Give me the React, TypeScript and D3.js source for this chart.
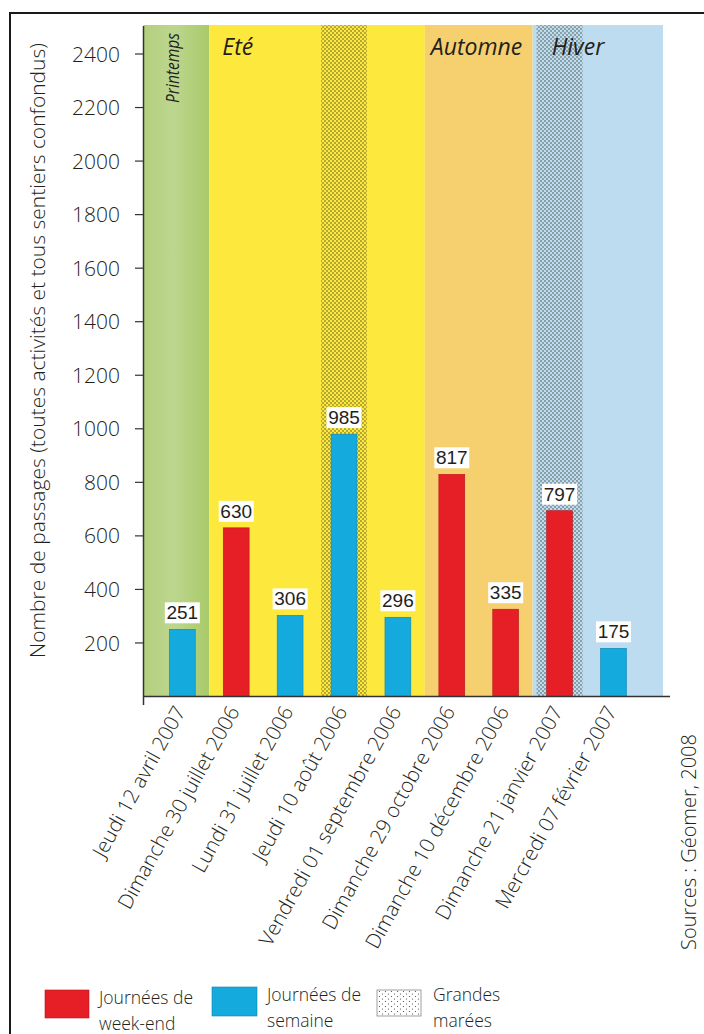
import React from "react";
import * as d3 from "d3";

// ---- Data ----
const categories = [
  "Jeudi 12 avril 2007",
  "Dimanche 30 juillet 2006",
  "Lundi 31 juillet 2006",
  "Jeudi 10 août 2006",
  "Vendredi 01 septembre 2006",
  "Dimanche 29 octobre 2006",
  "Dimanche 10 décembre 2006",
  "Dimanche 21 janvier 2007",
  "Mercredi 07 février 2007",
];
// printed value labels
const valueLabels = [251, 630, 306, 985, 296, 817, 335, 797, 175];
// bar heights as drawn in the picture
const barValues = [251, 630, 303, 980, 296, 830, 326, 694, 180];
const dayTypes = ["semaine", "weekend", "semaine", "semaine", "semaine", "weekend", "weekend", "weekend", "semaine"];
const grandesMarees = [false, false, false, true, false, false, false, true, false];

const seasons = ["Printemps", "Eté", "Automne", "Hiver"];
const seasonFirst = [0, 1, 5, 7];
const seasonLast = [0, 4, 6, 8];

const yTicks = [200, 400, 600, 800, 1000, 1200, 1400, 1600, 1800, 2000, 2200, 2400];

const legendLabels = [
  ["Journées de", "week-end"],
  ["Journées de", "semaine"],
  ["Grandes", "marées"],
];

// ---- Styles ----
const seasonColors = ["url(#greenGrad)", "#fde83d", "#f6cf6f", "#bddcf0"];
const barColors: Record<string, string> = { weekend: "#e61f26", semaine: "#14aade" };
const barStroke: Record<string, string> = { weekend: "#b5161c", semaine: "#0d86b0" };
const FONT = "'Open Sans', 'DejaVu Sans', sans-serif";
const TEXT = "#231f20";
const W_LIGHT = 350;

export default function App() {
  const W = 704;
  const H = 1034;
  const plotLeft = 143.5;
  const plotRight = 663;
  const bandTop = 25;

  const y = d3.scaleLinear().domain([0, 2400]).range([696.5, 54]);
  const plotBottom = y(0);
  const x = d3
    .scaleBand<string>()
    .domain(categories)
    .range([143.5, 652.3])
    .paddingInner(0.52)
    .paddingOuter(0.48);
  const bw = x.bandwidth();
  const step = x.step();
  const cx = (i: number) => (x(categories[i]) as number) + bw / 2;

  const seasonLeft = (s: number) => (seasonFirst[s] === 0 ? plotLeft : cx(seasonFirst[s]) - step / 2);
  const seasonRight = (s: number) =>
    seasonLast[s] === categories.length - 1 ? plotRight : cx(seasonLast[s]) + step / 2;
  const seasonOf = (i: number) => seasonFirst.findIndex((f, s) => i >= f && i <= seasonLast[s]);

  const seasonLabelDx = [0, 13, 6, 19];

  return (
    <div style={{ position: "absolute", left: 0, top: 0 }}>
      <svg width={W} height={H} style={{ display: "block", background: "#fff" }}>
        <defs>
          <linearGradient id="greenGrad" x1="0" x2="1" y1="0" y2="0">
            <stop offset="0" stopColor="#b3cf7c" />
            <stop offset="0.45" stopColor="#bdd68f" />
            <stop offset="1" stopColor="#a9ca69" />
          </linearGradient>
          <pattern id="dots" width="4" height="4" patternUnits="userSpaceOnUse">
            <circle cx="1" cy="1" r="0.8" fill="#2e2e20" fillOpacity="0.8" />
            <circle cx="3" cy="3" r="0.8" fill="#2e2e20" fillOpacity="0.8" />
          </pattern>
          <pattern id="dotsLegend" width="6" height="5" patternUnits="userSpaceOnUse">
            <circle cx="1.5" cy="1.5" r="0.6" fill="#444" />
            <circle cx="4.5" cy="4" r="0.6" fill="#444" />
          </pattern>
        </defs>

        {/* frame */}
        <path d={`M${W + 5},13 H10 V${H + 5}`} fill="none" stroke="#1a1a1a" strokeWidth={2} />

        {/* season bands */}
        {seasons.map((s, k) => (
          <rect
            key={s}
            x={seasonLeft(k)}
            y={bandTop}
            width={seasonRight(k) - seasonLeft(k)}
            height={plotBottom - bandTop}
            fill={seasonColors[k]}
          />
        ))}

        {/* grandes marées bands */}
        {categories.map((c, i) => {
          if (!grandesMarees[i]) return null;
          const s = seasonOf(i);
          const l = Math.max(cx(i) - 23, seasonLeft(s));
          const r = Math.min(cx(i) + 23, seasonRight(s));
          return (
            <rect key={c} x={l} y={bandTop} width={r - l} height={plotBottom - bandTop} fill="url(#dots)" />
          );
        })}

        {/* season labels */}
        {seasons.map((s, k) =>
          k === 0 ? (
            <text
              key={s}
              transform={`translate(${seasonLeft(k) + 35},33) rotate(-90)`}
              textAnchor="end"
              fontFamily={FONT}
              fontStyle="italic"
              fontSize={19}
              textLength={70}
              lengthAdjust="spacingAndGlyphs"
              fill={TEXT}
            >
              {s}
            </text>
          ) : (
            <text
              key={s}
              x={seasonLeft(k) + seasonLabelDx[k]}
              y={55}
              fontFamily={FONT}
              fontStyle="italic"
              fontSize={23}
              fill={TEXT}
            >
              {s}
            </text>
          )
        )}

        {/* bars */}
        {categories.map((c, i) => (
          <rect
            key={c}
            x={x(c)}
            y={y(barValues[i])}
            width={bw}
            height={plotBottom - y(barValues[i])}
            fill={barColors[dayTypes[i]]}
            stroke={barStroke[dayTypes[i]]}
            strokeWidth={0.6}
          />
        ))}

        {/* value labels */}
        {categories.map((c, i) => {
          const top = y(barValues[i]);
          return (
            <g key={c}>
              <rect x={cx(i) - 17.5} y={top - 27} width={35} height={21} fill="#fff" />
              <text
                x={cx(i)}
                y={top - 10}
                textAnchor="middle"
                fontFamily="'Liberation Sans', Arial, sans-serif"
                fontSize={19}
                fill={TEXT}
              >
                {valueLabels[i]}
              </text>
            </g>
          );
        })}

        {/* y axis */}
        <line x1={plotLeft} x2={plotLeft} y1={bandTop + 1} y2={705} stroke="#333" strokeWidth={1.5} />
        <line x1={plotLeft} x2={670} y1={plotBottom} y2={plotBottom} stroke="#333" strokeWidth={1.5} />
        {yTicks.map((t) => (
          <g key={t}>
            <line x1={135} x2={plotLeft} y1={y(t)} y2={y(t)} stroke="#333" strokeWidth={1.2} />
            <text
              x={120}
              y={y(t)}
              dy="0.36em"
              textAnchor="end"
              fontFamily={FONT}
              fontWeight={W_LIGHT}
              fontSize={21}
              fill={TEXT}
            >
              {t}
            </text>
          </g>
        ))}
        <text
          transform={`translate(45,${(33 + 668) / 2}) rotate(-90)`}
          textAnchor="middle"
          fontFamily={FONT}
          fontWeight={W_LIGHT}
          fontSize={21}
          fill={TEXT}
        >
          Nombre de passages (toutes activités et tous sentiers confondus)
        </text>

        {/* category labels */}
        {categories.map((c, i) => (
          <text
            key={c}
            transform={`translate(${cx(i) - 9},704) rotate(-61)`}
            dy="0.72em"
            textAnchor="end"
            fontFamily={FONT}
            fontWeight={W_LIGHT}
            fontSize={20.5}
            fill={TEXT}
          >
            {c}
          </text>
        ))}

        {/* source */}
        <text
          transform="translate(696,950) rotate(-90)"
          fontFamily={FONT}
          fontWeight={W_LIGHT}
          fontSize={20}
          fill={TEXT}
        >
          Sources : Géomer, 2008
        </text>

        {/* legend */}
        <rect x={45} y={990} width={44} height={28} fill={barColors.weekend} stroke={barStroke.weekend} strokeWidth={0.6} />
        <rect x={212} y={987} width={45} height={29} fill={barColors.semaine} stroke={barStroke.semaine} strokeWidth={0.6} />
        <rect x={377} y={990} width={44} height={26} fill="#fff" />
        <rect x={377} y={990} width={44} height={26} fill="url(#dotsLegend)" stroke="#888" strokeWidth={0.8} />
        {legendLabels.map((lines, k) => {
          const lx = [99, 267, 433][k];
          const by = [1004, 1001, 1001][k];
          return (
            <text key={k} fontFamily={FONT} fontWeight={W_LIGHT} fontSize={17.5} fill={TEXT}>
              <tspan x={lx} y={by}>{lines[0]}</tspan>
              <tspan x={lx} y={by + 26}>{lines[1]}</tspan>
            </text>
          );
        })}
      </svg>
    </div>
  );
}
